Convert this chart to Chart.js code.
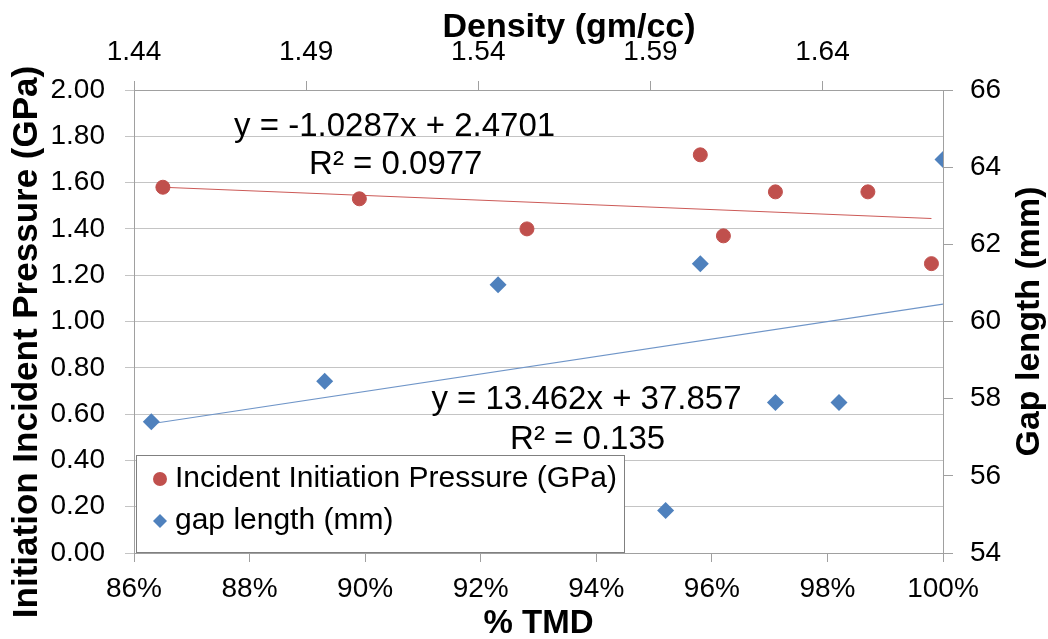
<!DOCTYPE html>
<html>
<head>
<meta charset="utf-8">
<script src="https://cdn.jsdelivr.net/npm/chart.js@4.4.0/dist/chart.umd.min.js"></script>
<style>
  html, body { margin: 0; padding: 0; background: #fff; }
  #wrap { width: 1048px; height: 639px; }
</style>
</head>
<body>
<div id="wrap"><canvas id="chart" width="1048" height="639"></canvas></div>
<script>
// Incident initiation pressure vs % TMD (left axis)
const pressureTmd = [86.5, 89.9, 92.8, 95.8, 96.2, 97.1, 98.7, 99.8]
const pressureGpa = [1.58, 1.53, 1.40, 1.72, 1.37, 1.56, 1.56, 1.25]

// gap length vs % TMD (right axis)
const gapTmd = [86.3, 89.3, 92.3, 95.8, 95.2, 97.1, 98.2, 100.0]
const gapMm = [57.4, 58.45, 60.95, 61.5, 55.1, 57.9, 57.9, 64.2]

// linear trendline end points
const pressureTrendTmd = [86.5, 99.8]
const pressureTrendGpa = [1.58, 1.445]
const gapTrendTmd = [86.3, 100.0]
const gapTrendMm = [57.35, 60.45]

// trendline equation labels: text and anchor (% TMD, left-axis GPa)
const eqText = ['y = -1.0287x + 2.4701', 'R² = 0.0977', 'y = 13.462x + 37.857', 'R² = 0.135']
const eqTmd = [90.51, 90.53, 93.83, 93.85]
const eqGpa = [1.84, 1.675, 0.66, 0.49]

// top axis (density) tick labels
const densityTicks = [1.44, 1.49, 1.54, 1.59, 1.64]

const RED = '#C0504D'
const BLUE = '#4F81BD'
const FONT = "'Liberation Sans', Arial, sans-serif"
const AXIS = '#a0a0a0'
const GRID = '#c4c4c4'

const toPts = (xs, ys) => xs.map((x, i) => ({ x, y: ys[i] }))

const seriesLabels = ['Incident Initiation Pressure (GPa)', 'gap length (mm)']

// equation labels, custom legend box and the axis titles Excel places off-centre
const extras = {
  id: 'extras',
  afterDraw(chart) {
    const { ctx, chartArea: ca, scales } = chart
    ctx.save()
    ctx.fillStyle = '#000'
    ctx.textAlign = 'center'
    ctx.textBaseline = 'middle'
    ctx.font = `33px ${FONT}`
    eqText.forEach((t, i) => {
      ctx.fillText(t, scales.x.getPixelForValue(eqTmd[i]), scales.y.getPixelForValue(eqGpa[i]))
    })

    // legend
    const bx = ca.left + 2, by = ca.bottom - 98, bw = 488, bh = 97
    ctx.fillStyle = '#fff'
    ctx.fillRect(bx, by, bw, bh)
    ctx.strokeStyle = '#808080'
    ctx.lineWidth = 1
    ctx.strokeRect(bx + 0.5, by + 0.5, bw, bh)
    ctx.font = `30px ${FONT}`
    ctx.textAlign = 'left'
    const rows = [by + 24, by + 66]
    ctx.fillStyle = RED
    ctx.beginPath()
    ctx.arc(bx + 24, rows[0], 7, 0, Math.PI * 2)
    ctx.fill()
    ctx.fillStyle = BLUE
    ctx.beginPath()
    ctx.moveTo(bx + 24, rows[1] - 7)
    ctx.lineTo(bx + 31, rows[1])
    ctx.lineTo(bx + 24, rows[1] + 7)
    ctx.lineTo(bx + 17, rows[1])
    ctx.closePath()
    ctx.fill()
    ctx.fillStyle = '#000'
    ctx.fillText(seriesLabels[0], bx + 39, rows[0])
    ctx.fillText(seriesLabels[1], bx + 39, rows[1])

    // top title
    ctx.textAlign = 'center'
    ctx.font = `bold 34px ${FONT}`
    ctx.fillText('Density (gm/cc)', 569, 28)

    // side titles, both reading bottom to top
    ctx.font = `bold 35px ${FONT}`
    ctx.save()
    ctx.translate(27, 342)
    ctx.rotate(-Math.PI / 2)
    ctx.fillText('Initiation Incident Pressure (GPa)', 0, 0)
    ctx.restore()
    ctx.font = `bold 34px ${FONT}`
    ctx.translate(1030, (ca.top + ca.bottom) / 2)
    ctx.rotate(-Math.PI / 2)
    ctx.fillText('Gap length (mm)', 0, 0)
    ctx.restore()
  }
}

const tickFont = { family: FONT, size: 28 }

new Chart(document.getElementById('chart'), {
  type: 'scatter',
  data: {
    datasets: [
      {
        label: seriesLabels[0],
        data: toPts(pressureTmd, pressureGpa),
        xAxisID: 'x', yAxisID: 'y',
        pointStyle: 'circle', pointRadius: 7, borderWidth: 1,
        backgroundColor: RED, borderColor: RED
      },
      {
        label: seriesLabels[1],
        data: toPts(gapTmd, gapMm),
        xAxisID: 'x', yAxisID: 'y2',
        pointStyle: 'rectRot', pointRadius: 8.5, borderWidth: 0,
        backgroundColor: BLUE, borderColor: BLUE
      },
      {
        type: 'line',
        data: toPts(pressureTrendTmd, pressureTrendGpa),
        xAxisID: 'x', yAxisID: 'y',
        borderColor: '#cc5a57', borderWidth: 1.2, pointRadius: 0, showLine: true, fill: false
      },
      {
        type: 'line',
        data: toPts(gapTrendTmd, gapTrendMm),
        xAxisID: 'x', yAxisID: 'y2',
        borderColor: '#6f95c8', borderWidth: 1.2, pointRadius: 0, showLine: true, fill: false
      }
    ]
  },
  options: {
    responsive: false,
    animation: false,
    layout: { padding: 0 },
    plugins: { legend: { display: false }, tooltip: { enabled: false } },
    scales: {
      x: {
        type: 'linear', position: 'bottom', min: 86, max: 100,
        ticks: { stepSize: 2, callback: (v) => v + '%', font: tickFont, color: '#000', padding: 10, maxRotation: 0 },
        grid: { drawOnChartArea: false, tickLength: 9, color: AXIS },
        border: { color: AXIS },
        title: { display: true, text: '% TMD', font: { family: FONT, size: 33, weight: 'bold', lineHeight: 0.9 }, color: '#000', padding: 0 },
        afterFit: (s) => { s.height = 86 }
      },
      x2: {
        type: 'linear', position: 'top', min: 1.44, max: 1.675,
        afterBuildTicks: (s) => { s.ticks = densityTicks.map(v => ({ value: v })) },
        ticks: { callback: (v) => v.toFixed(2), font: tickFont, color: '#000', padding: 12, maxRotation: 0 },
        grid: { drawOnChartArea: false, tickLength: 9, color: AXIS },
        border: { color: AXIS },
        afterFit: (s) => { s.height = 90 }
      },
      y: {
        type: 'linear', position: 'left', min: 0, max: 2,
        ticks: { stepSize: 0.2, callback: (v) => v.toFixed(2), font: tickFont, color: '#000', padding: 20 },
        grid: { color: GRID, tickLength: 9 },
        border: { color: AXIS },
        afterFit: (s) => { s.width = 134 }
      },
      y2: {
        type: 'linear', position: 'right', min: 54, max: 66,
        ticks: { stepSize: 2, font: tickFont, color: '#000', padding: 17 },
        grid: { drawOnChartArea: false, tickLength: 10, color: AXIS },
        border: { color: AXIS },
        afterFit: (s) => { s.width = 105 }
      }
    }
  },
  plugins: [extras]
})
</script>
</body>
</html>
